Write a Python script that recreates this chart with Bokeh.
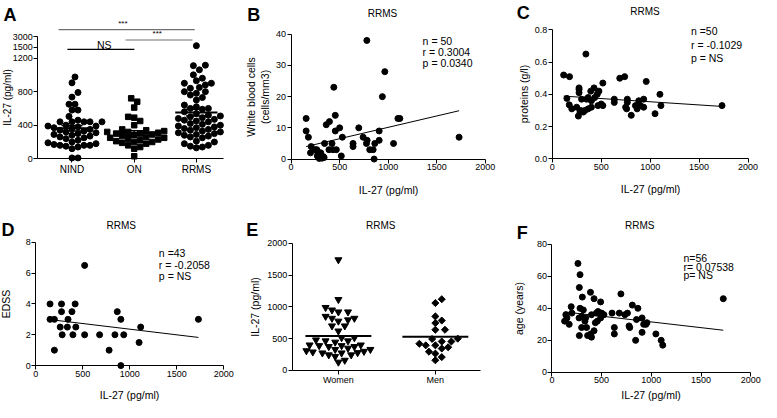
import numpy as np
from bokeh.plotting import figure
from bokeh.layouts import gridplot
from bokeh.models import FixedTicker, Label, Range1d, NumeralTickFormatter
from bokeh.embed import file_html
from bokeh.resources import INLINE

FONT = "Liberation Sans"

# ---------------- data ----------------
# Panel A: IL-27 (pg/ml) per group
a_categories = ["NIND", "ON", "RRMS"]
a_nind = [975, 905, 790, 735, 650, 650, 580, 580, 505, 460, 440, 440, 440, 440, 440,
          400, 390, 390, 380, 370, 360, 350, 340, 330, 320, 310, 300, 290, 280, 270,
          260, 250, 240, 220, 200, 190, 180, 170, 160, 160, 160, 150, 140, 120, 10, 10]
a_on = [720, 680, 610, 500, 490, 450, 400, 350, 340, 330, 320, 320, 310, 300, 300, 290,
        280, 270, 260, 250, 250, 240, 230, 220, 210, 200, 200, 190, 180, 160, 140, 120, 30]
a_rrms = [1730, 1115, 1110, 1060, 1000, 960, 930, 900, 900, 880, 850, 840, 800, 800, 780,
          760, 730, 700, 640, 620, 600, 600, 590, 560, 540, 520, 510, 500, 490, 480, 470,
          460, 450, 440, 420, 410, 400, 390, 380, 370, 360, 350, 340, 330, 320, 310, 300,
          290, 280, 270, 260, 250, 210, 200, 180, 160, 150, 140, 130]
a_tick_values = [0, 400, 800, 1200, 1500, 3000]

# Panel B: white blood cells vs IL-27
b_il27 = [780, 965, 440, 940, 155, 455, 1100, 1120, 362, 395, 500, 455, 155, 178, 697, 907,
          528, 742, 783, 1730, 207, 345, 421, 638, 638, 776, 862, 907, 1055, 200, 265, 390,
          431, 466, 810, 845, 276, 285, 300, 310, 320, 295, 330, 517, 855, 250, 270, 340,
          305, 290]
b_wbc = [38, 28, 23, 20, 13, 14, 13, 13, 11, 12, 10, 9, 9, 7, 10, 9, 7, 7, 6, 7, 4, 5, 5, 5,
         4, 5, 5, 6, 5, 2, 3, 3, 3, 3, 3, 3, 2, 1, 0.5, 1, 0.3, 1.5, 0.8, 1, 0, 3, 1, 0.5, 2, 0.2]
b_stats = ["n = 50", "r = 0.3004", "p = 0.0340"]

# Panel C: proteins vs IL-27
c_il27 = [344, 117, 177, 690, 740, 960, 517, 274, 274, 274, 427, 394, 477, 460, 1100, 150,
          300, 350, 367, 400, 434, 634, 634, 767, 767, 884, 934, 850, 900, 867, 934, 1110,
          1734, 1050, 807, 174, 200, 250, 284, 267, 317, 334, 367, 400, 467, 500, 517, 750,
          760, 290]
c_prot = [0.65, 0.52, 0.51, 0.50, 0.51, 0.48, 0.47, 0.44, 0.43, 0.41, 0.44, 0.42, 0.42, 0.40,
          0.40, 0.375, 0.37, 0.37, 0.38, 0.36, 0.38, 0.37, 0.35, 0.37, 0.35, 0.36, 0.37, 0.33,
          0.33, 0.31, 0.32, 0.33, 0.33, 0.28, 0.27, 0.335, 0.31, 0.32, 0.29, 0.265, 0.29, 0.30,
          0.31, 0.32, 0.33, 0.34, 0.33, 0.32, 0.31, 0.30]
c_stats = ["n =50", "r = -0.1029", "p = NS"]

# Panel D: EDSS vs IL-27
d_il27 = [152, 152, 198, 198, 274, 274, 260, 281, 343, 336, 385, 395, 419, 426, 520, 520,
          679, 780, 842, 867, 905, 905, 936, 1099, 1116, 1730]
d_edss = [4, 3, 3, 1, 4, 3.5, 2.5, 2, 3, 2.5, 3.5, 2, 4, 2.5, 6.5, 2, 2, 1, 2, 3.5, 3, 0, 2,
          1.5, 2.5, 3]
d_stats = ["n =43", "r = -0.2058", "p = NS"]

# Panel E: IL-27 by sex
e_categories = ["Women", "Men"]
e_women = [1740, 1115, 990, 950, 920, 920, 850, 820, 820, 795, 775, 700, 700, 620, 515, 515,
           480, 465, 465, 445, 400, 400, 390, 390, 375, 375, 350, 330, 330, 310, 300, 290,
           280, 275, 275, 245, 245, 220, 160, 130]
e_men = [1120, 1060, 850, 785, 745, 640, 640, 500, 495, 455, 455, 420, 395, 395, 365, 345,
         295, 265, 210, 160]

# Panel F: age vs IL-27
f_il27 = [262, 283, 276, 306, 388, 424, 490, 694, 194, 201, 283, 316, 128, 151, 174, 273,
          339, 332, 299, 349, 276, 359, 398, 392, 424, 398, 447, 464, 437, 457, 490, 523,
          605, 678, 734, 760, 628, 628, 776, 783, 809, 865, 851, 907, 946, 923, 956, 842,
          907, 1046, 1099, 1115, 1724, 140, 500, 300]
f_age = [68, 61, 53, 47, 50, 46, 44, 49, 41, 37, 40, 39, 32, 34, 30, 34, 34, 32, 28, 28, 23,
         23, 22, 24, 26, 36, 37, 38, 31, 32, 34, 36, 37, 37, 36, 37, 28, 24, 29, 28, 42, 40,
         33, 34, 30, 30, 31, 20, 25, 24, 20, 17, 46, 36, 37, 35]
f_stats = ["n=56", "r= 0.07538", "p= NS"]

# ---------------- layout geometry ----------------
SX, SY, YOFF = 761 / 777, 402 / 414, 2.0
COLS = [0, 245, 499, 761]
ROWS = [0, 197, 402]


def make_map(r, c, xa, xra, xb, xrb, ya, yra, yb, yrb):
    """Ranges so that data values land where the reference panel puts them."""
    cx0, cy0 = COLS[c], ROWS[r]
    W, H = COLS[c + 1] - cx0, ROWS[r + 1] - cy0
    pxa, pxb = xra * SX - cx0, xrb * SX - cx0
    kx = (xb - xa) / (pxb - pxa)
    xs = xa - pxa * kx
    qa = H - ((yra - YOFF) * SY - cy0)
    qb = H - ((yrb - YOFF) * SY - cy0)
    ky = (yb - ya) / (qb - qa)
    ys = ya - qa * ky

    def data(xref, yref):
        px = xref * SX - cx0
        q = H - ((yref - YOFF) * SY - cy0)
        return xs + px * kx, ys + q * ky

    return dict(W=W, H=H, xr=(xs, xs + W * kx), yr=(ys, ys + H * ky), data=data,
                kx=kx, ky=ky)


def a_axis(v):
    """Broken y axis of panel A: linear to 1200, compressed above."""
    if v <= 1200:
        return v
    if v <= 1500:
        return 1200 + (v - 1200) * 128 / 300
    return 1328 + (v - 1500) * 127 / 1500


def swarm(ypix, d, step):
    offs = [0.0] * len(ypix)
    placed = []
    for i in sorted(range(len(ypix)), key=lambda k: ypix[k]):
        y = ypix[i]
        j = 0
        while True:
            cand = 0.0 if j == 0 else ((j + 1) // 2) * step * (1 if j % 2 else -1)
            if all((cand - px) ** 2 + (y - py) ** 2 >= d * d for px, py in placed):
                break
            j += 1
        placed.append((cand, y))
        offs[i] = cand
    return offs


def base_fig(m, yaxis_x, xbounds, ybounds, xlabel, ylabel, ystand, xstand):
    p = figure(width=m["W"], height=m["H"], x_range=Range1d(*m["xr"]),
               y_range=Range1d(*m["yr"]), min_border=0, min_border_left=0,
               min_border_right=0, min_border_top=0, min_border_bottom=0,
               output_backend="svg", toolbar_location=None, title=None)
    p.outline_line_color = None
    p.xgrid.visible = False
    p.ygrid.visible = False
    for ax in [p.xaxis[0], p.yaxis[0]]:
        ax.axis_line_color = "black"
        ax.axis_line_width = 1
        ax.major_tick_line_color = "black"
        ax.major_tick_out = 4
        ax.major_tick_in = 0
        ax.minor_tick_line_color = None
        ax.major_label_text_font = FONT
        ax.major_label_text_font_size = "9px"
        ax.major_label_text_color = "black"
        ax.major_label_standoff = 1
        ax.axis_label_text_font = FONT
        ax.axis_label_text_font_size = "10.5px"
        ax.axis_label_text_font_style = "normal"
        ax.axis_label_text_color = "black"
    p.xaxis.fixed_location = 0
    p.yaxis.fixed_location = yaxis_x
    p.xaxis.bounds = xbounds
    p.yaxis.bounds = ybounds
    if xlabel:
        p.xaxis.axis_label = xlabel
    p.yaxis.axis_label = ylabel
    p.yaxis.axis_label_standoff = ystand
    p.xaxis.axis_label_standoff = xstand
    return p


def text(p, m, xref, yref, t, size, align="left", baseline="middle", bold=False):
    x, y = m["data"](xref, yref)
    p.add_layout(Label(x=x, y=y, text=t, text_font=FONT, text_font_size=size,
                       text_font_style="bold" if bold else "normal", text_color="black",
                       text_align=align, text_baseline=baseline))


def scatter_panel(m, xs, ys, ytop, yticks, ylabel, letter, letter_ref, title_ref,
                  stat_x, stat_ys, stat_txt, ystand, xstand, yfmt=None):
    p = base_fig(m, 0, (0, 2000), (0, ytop), "IL-27 (pg/ml)", ylabel, ystand, xstand)
    p.scatter(xs, ys, marker="circle", size=6, color="black")
    k, c = np.polyfit(np.array(xs, float), np.array(ys, float), 1)
    x0, x1 = min(xs), max(xs)
    p.line([x0, x1], [k * x0 + c, k * x1 + c], color="black", line_width=1)
    p.xaxis.ticker = FixedTicker(ticks=[0, 500, 1000, 1500, 2000])
    p.yaxis.ticker = FixedTicker(ticks=yticks)
    if yfmt:
        p.yaxis.formatter = NumeralTickFormatter(format=yfmt)
    text(p, m, letter_ref[0], letter_ref[1], letter, "18px", baseline="alphabetic", bold=True)
    text(p, m, title_ref[0], title_ref[1], "RRMS", "10px", align="center")
    for yy, t in zip(stat_ys, stat_txt):
        text(p, m, stat_x, yy, t, "10.5px")
    return p


# ---------------- panel A ----------------
mA = make_map(0, 0, 1, 73, 3, 200, 0, 165, 1200, 61.3)
pA = base_fig(mA, mA["data"](38, 0)[0], (mA["data"](38, 0)[0], mA["data"](228, 0)[0]),
              (0, a_axis(3000)), None, "IL-27 (pg/ml)", -4, 4)
pA.yaxis.axis_label_text_font_size = "10px"
ux, uy = 1 / mA["kx"], 1 / mA["ky"]
for i, (vals, marker, size) in enumerate([(a_nind, "circle", 6), (a_on, "square", 5.5),
                                          (a_rrms, "circle", 6)]):
    ys = [a_axis(v) for v in vals]
    offs = swarm([y * uy for y in ys], 6.0, 3.0)
    xs = [i + 1 + o / ux for o in offs]
    pA.scatter(xs, ys, marker=marker, size=size, color="black")
    mean = float(np.mean(vals))
    sem = float(np.std(vals, ddof=1) / np.sqrt(len(vals)))
    cx = i + 1
    pA.segment(x0=[cx - 0.34], y0=[mean], x1=[cx + 0.34], y1=[mean], color="black",
               line_width=2)
    pA.segment(x0=[cx - 0.17, cx - 0.17, cx], y0=[mean - sem, mean + sem, mean - sem],
               x1=[cx + 0.17, cx + 0.17, cx], y1=[mean - sem, mean + sem, mean + sem],
               color="black", line_width=1.5)
pA.xaxis.ticker = FixedTicker(ticks=[1, 2, 3])
pA.xaxis.major_label_overrides = {i + 1: c for i, c in enumerate(a_categories)}
pA.xaxis.major_label_text_font_size = "10px"
pA.yaxis.ticker = FixedTicker(ticks=[int(round(a_axis(v))) for v in a_tick_values])
pA.yaxis.major_label_overrides = {int(round(a_axis(v))): str(v) for v in a_tick_values}
# significance bars (reference pixel positions)
for (xl, xr_, yb, col) in [(59.3, 198.3, 32.0, "#707070"), (127.7, 196.0, 42.7, "#707070"),
                           (68.3, 136.7, 52.3, "black")]:
    (bx0, by), (bx1, _) = mA["data"](xl, yb), mA["data"](xr_, yb)
    pA.segment(x0=[bx0], y0=[by], x1=[bx1], y1=[by], color=col, line_width=1.2)
text(pA, mA, 125, 30, "***", "8px", align="center", baseline="bottom")
text(pA, mA, 160, 41, "***", "8px", align="center", baseline="bottom")
text(pA, mA, 106, 47.5, "NS", "10.5px", align="center", baseline="alphabetic")
text(pA, mA, 3, 17, "A", "18px", baseline="alphabetic", bold=True)

# ---------------- panels B, C ----------------
mB = make_map(0, 1, 0, 296.7, 2000, 495, 0, 165.3, 40, 36.7)
pB = scatter_panel(mB, b_il27, b_wbc, 40, [0, 10, 20, 30, 40],
                   "White blood cells\n(cells/mm3)", "B", (252, 17), (390, 15),
                   431, [43.3, 55, 66.7], b_stats, 2, 10)
mC = make_map(0, 2, 0, 563.3, 2000, 763.3, 0, 165, 0.8, 32.3)
pC = scatter_panel(mC, c_il27, c_prot, 0.8, [0, 0.2, 0.4, 0.6, 0.8], "proteins (g/l)",
                   "C", (527, 15), (658, 13.3), 705, [33.3, 48.3, 61.7], c_stats, 2, 10,
                   yfmt="0.0")

# ---------------- panel D ----------------
mD = make_map(1, 0, 0, 36, 2000, 228, 0, 378, 8, 251)
pD = scatter_panel(mD, d_il27, d_edss, 8, [0, 2, 4, 6, 8], "EDSS", "D", (1, 238),
                   (123.3, 233.3), 161.7, [261.7, 274, 286], d_stats, 10, 9)

# ---------------- panel E ----------------
mE = make_map(1, 1, 1, 345, 2, 444, 0, 383, 2000, 252)
ex0, ex1 = mE["data"](298, 0)[0], mE["data"](490, 0)[0]
pE = base_fig(mE, ex0, (ex0, ex1), (0, 2000), None, "IL-27 (pg/ml)", 3, 4)
ex, ey = 1 / mE["kx"], 1 / mE["ky"]
for i, (vals, marker, size, ang) in enumerate([(e_women, "inverted_triangle", 7, 0.0),
                                               (e_men, "square", 5, np.pi / 4)]):
    offs = swarm([v * ey for v in vals], 6.5, 3.2)
    xs = [i + 1 + o / ex for o in offs]
    pE.scatter(xs, vals, marker=marker, size=size, angle=ang, color="black")
    mean = float(np.mean(vals))
    pE.segment(x0=[i + 1 - 0.34], y0=[mean], x1=[i + 1 + 0.34], y1=[mean], color="black",
               line_width=2)
pE.xaxis.ticker = FixedTicker(ticks=[1, 2])
pE.xaxis.major_label_overrides = {i + 1: c for i, c in enumerate(e_categories)}
pE.yaxis.ticker = FixedTicker(ticks=[0, 500, 1000, 1500, 2000])
text(pE, mE, 251, 238, "E", "18px", baseline="alphabetic", bold=True)
text(pE, mE, 388.3, 233.3, "RRMS", "10px", align="center")

# ---------------- panel F ----------------
mF = make_map(1, 2, 0, 563, 2000, 766, 0, 385, 80, 253)
pF = scatter_panel(mF, f_il27, f_age, 80, [0, 20, 40, 60, 80], "age (years)", "F",
                   (527, 241.7), (652.7, 233.3), 697.3, [267.3, 276.3, 285], f_stats, 8, 2)

grid = gridplot([[pA, pB, pC], [pD, pE, pF]], toolbar_location=None)
open("out.html", "w").write(file_html(grid, INLINE))
